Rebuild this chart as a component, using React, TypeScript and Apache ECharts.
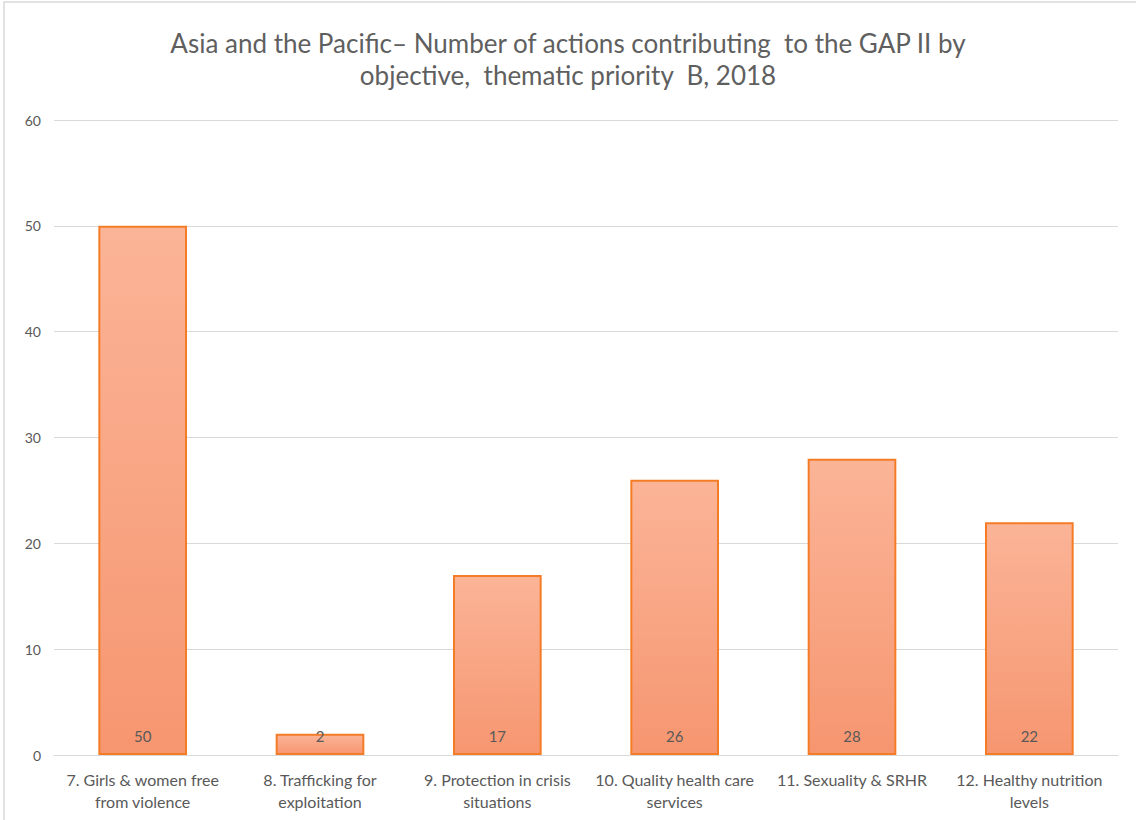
import React, { useEffect, useRef } from "react";
import * as echarts from "echarts";

const categories = [
  "7. Girls & women free\nfrom violence",
  "8. Trafficking for\nexploitation",
  "9. Protection in crisis\nsituations",
  "10. Quality health care\nservices",
  "11. Sexuality & SRHR",
  "12. Healthy nutrition\nlevels",
];
const values = [50, 2, 17, 26, 28, 22];
const titleText =
  "Asia and the Pacific\u2013 Number of actions contributing  to the GAP II by\nobjective,  thematic priority  B, 2018";

export default function App() {
  const ref = useRef<HTMLDivElement>(null);
  useEffect(() => {
    if (!ref.current) return;
    const chart = echarts.init(ref.current, null, { renderer: "svg" });
    const font = "Lato, 'Open Sans', sans-serif";
    chart.setOption({
      animation: false,
      backgroundColor: "#ffffff",
      title: {
        text: titleText,
        left: "center",
        top: 22,
        textStyle: {
          fontFamily: font,
          fontSize: 26,
          fontWeight: "normal",
          color: "#5f5f5f",
          lineHeight: 32,
        },
      },
      graphic: [
        {
          type: "rect",
          shape: { x: 4, y: 2, width: 1140, height: 830 },
          style: { fill: "none", stroke: "#d9d9d9", lineWidth: 1.5 },
          silent: true,
        },
      ],
      grid: { left: 54, right: 18, top: 120, bottom: 65, containLabel: false },
      xAxis: {
        type: "category",
        data: categories,
        axisLine: { lineStyle: { color: "#d9d9d9", width: 1 } },
        axisTick: { show: false },
        axisLabel: {
          interval: 0,
          color: "#595959",
          fontFamily: font,
          fontSize: 16,
          lineHeight: 22,
          margin: 13,
        },
      },
      yAxis: {
        type: "value",
        min: 0,
        max: 60,
        interval: 10,
        axisLine: { show: false },
        axisTick: { show: false },
        splitLine: { lineStyle: { color: "#d9d9d9", width: 1 } },
        axisLabel: {
          color: "#595959",
          fontFamily: font,
          fontSize: 14,
          margin: 13,
        },
      },
      series: [
        {
          type: "bar",
          data: values,
          barWidth: "50%",
          itemStyle: {
            color: new echarts.graphic.LinearGradient(0, 0, 0, 1, [
              { offset: 0, color: "#fbb497" },
              { offset: 1, color: "#f69670" },
            ]),
            borderColor: "#f57c26",
            borderWidth: 2,
          },
          label: {
            show: true,
            position: "insideBottom",
            distance: 12,
            color: "#595959",
            fontFamily: font,
            fontSize: 15,
          },
        },
      ],
    });
    return () => chart.dispose();
  }, []);
  return (
    <div
      ref={ref}
      style={{ position: "fixed", left: 0, top: 0, width: 1136, height: 820 }}
    />
  );
}
